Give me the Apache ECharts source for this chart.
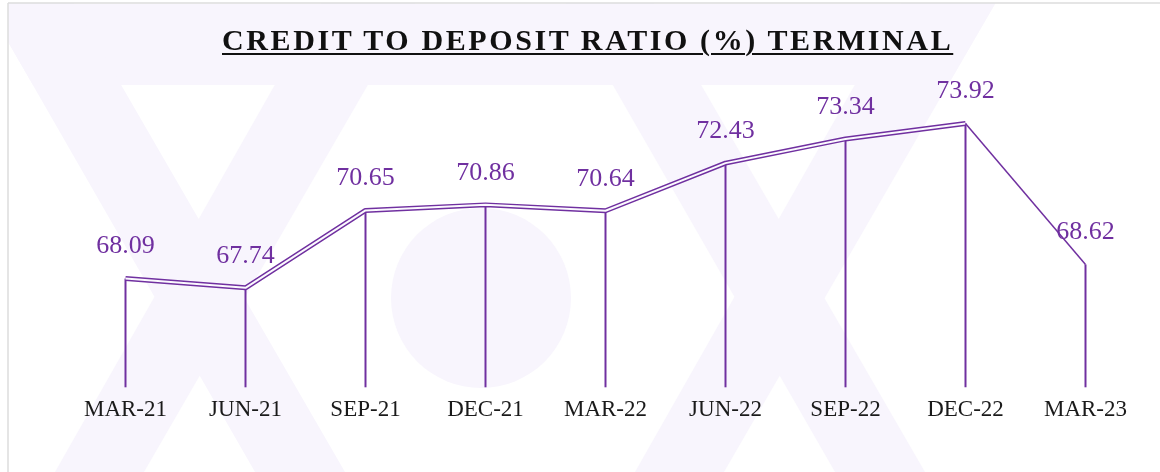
<!DOCTYPE html>
<html>
<head>
<meta charset="utf-8">
<title>Credit to Deposit Ratio</title>
<script src="https://cdn.jsdelivr.net/npm/echarts@6/dist/echarts.min.js"></script>
<style>
  html, body { margin: 0; padding: 0; background: #ffffff; }
  .wrap { position: relative; width: 1160px; height: 472px; }
  #ratioLine { width: 1160px; height: 472px; }
  /* 标题：字距 + 下划线 */
  .chartTitle {
    position: absolute;
    left: 222px;
    top: 25px;
    margin: 0;
    font-family: "Liberation Serif", "Times New Roman", serif;
    font-weight: bold;
    font-size: 30px;
    line-height: 30px;
    letter-spacing: 2.6px;
    color: #111111;
    white-space: nowrap;
    text-decoration: underline;
    text-decoration-thickness: 2px;
    text-underline-offset: 3px;
    z-index: 2;
  }
</style>
</head>
<body>
<div class="wrap">
  <div id="ratioLine"></div>
  <div class="chartTitle" id="chartTitle"></div>
</div>
<script>
  // 数据
  var quarters = ['MAR-21', 'JUN-21', 'SEP-21', 'DEC-21', 'MAR-22', 'JUN-22', 'SEP-22', 'DEC-22', 'MAR-23']
  var ratios = [68.09, 67.74, 70.65, 70.86, 70.64, 72.43, 73.34, 73.92, 68.62]
  var titleText = 'CREDIT TO DEPOSIT RATIO (%) TERMINAL'

  var purple = '#7030a0'
  var shade = '#f8f5fd'
  var serif = '"Liberation Serif", "Times New Roman", serif'

  document.getElementById('chartTitle').textContent = titleText

  // 最后一段是单线，前面是双线
  var lastIdx = ratios.length - 1
  var doubleData = ratios.map(function (v, i) { return i < lastIdx ? v : null })
  var singleData = ratios.map(function (v, i) { return i >= lastIdx - 1 ? v : null })

  var Line = echarts.init(document.getElementById('ratioLine'))

  // 背景水印 (X O X)
  var watermark = [
    { type: 'polygon', shape: { points: [[-14, 4], [995, 4], [948, 85], [33, 85]] } },
    { type: 'polygon', shape: { points: [[-16, 0], [72, 0], [345, 472], [255, 472]] } },
    { type: 'polygon', shape: { points: [[323, 0], [417, 0], [144, 472], [55, 472]] } },
    { type: 'polygon', shape: { points: [[564, 0], [652, 0], [925, 472], [835, 472]] } },
    { type: 'polygon', shape: { points: [[903, 0], [997, 0], [724, 472], [635, 472]] } },
    { type: 'circle', shape: { cx: 481, cy: 298, r: 90 } }
  ].map(function (g) {
    g.style = { fill: shade }
    g.z = 0
    g.silent = true
    return g
  })

  Line.setOption({
    animation: false,
    backgroundColor: '#ffffff',
    graphic: watermark.concat([
      // 外框
      { type: 'rect', z: 1, silent: true, shape: { x: 0, y: 0, width: 8, height: 472 }, style: { fill: '#ffffff' } },
      { type: 'rect', z: 1, silent: true, shape: { x: 0, y: 0, width: 1160, height: 3 }, style: { fill: '#ffffff' } },
      { type: 'line', z: 1, silent: true, shape: { x1: 8, y1: 3, x2: 1160, y2: 3 }, style: { stroke: '#dcdcdc', lineWidth: 1.5 } },
      { type: 'line', z: 1, silent: true, shape: { x1: 8, y1: 3, x2: 8, y2: 472 }, style: { stroke: '#dcdcdc', lineWidth: 1.5 } }
    ]),
    grid: {
      left: 65.5,
      right: 14.5,
      top: 15,
      bottom: 84.7
    },
    xAxis: {
      type: 'category',
      data: quarters,
      axisLine: { show: false },
      axisTick: { show: false },
      axisLabel: {
        margin: 11,
        fontFamily: serif,
        fontSize: 23,
        color: '#1a1a1a'
      }
    },
    yAxis: {
      type: 'value',
      min: 64,
      max: 78,
      startValue: 64,
      show: false,
      splitLine: { show: false }
    },
    series: [
      {
        // 垂直线
        name: 'drop',
        type: 'bar',
        barWidth: 2,
        itemStyle: { color: purple },
        label: {
          show: true,
          position: 'top',
          distance: 19,
          fontFamily: serif,
          fontSize: 26,
          color: purple,
          formatter: function (p) { return p.value.toFixed(2) }
        },
        data: ratios
      },
      {
        name: 'outer',
        type: 'line',
        showSymbol: false,
        lineStyle: { color: purple, width: 5 },
        data: doubleData
      },
      {
        name: 'inner',
        type: 'line',
        showSymbol: false,
        lineStyle: { color: '#fbf9fe', width: 2 },
        data: doubleData
      },
      {
        name: 'tail',
        type: 'line',
        showSymbol: false,
        lineStyle: { color: purple, width: 1.5 },
        data: singleData
      }
    ]
  })
</script>
</body>
</html>
